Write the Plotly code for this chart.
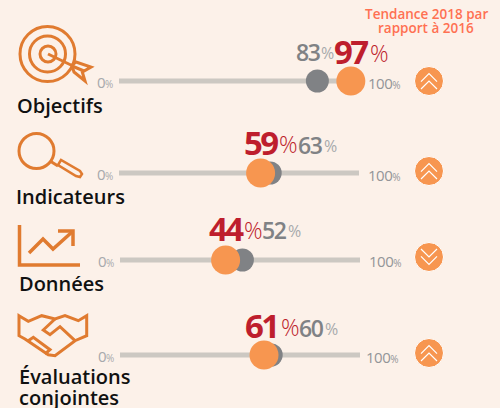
import plotly.graph_objects as go

categories = ["Objectifs", "Indicateurs", "Données", "Évaluations<br>conjointes"]
values_2018 = [97, 59, 44, 61]
labels_2016 = [83, 63, 52, 60]
# where the dots actually sit on the scale
dots_2018 = [97, 59, 44, 60]
dots_2016 = [83, 63, 51, 63]
trend = ["up", "up", "down", "up"]

BG = "#FCF1E9"; ICON = "#E07B30"; DOT = "#F79650"; GREY = "#808285"
TRACK = "#CCC8C2"; RED = "#BE1E2D"; LIGHT = "#A7A9AC"; HEAD = "#FF7052"
F = "Open Sans"
W, H = 500, 408

track_y = [81, 173, 260, 355]
track_x = [(119, 358), (119, 359), (120, 360), (120, 360)]
badge_y = [81, 171, 257, 353]
BADGE_X = 429
cat_pos = [(16, 105), (15, 196), (18, 283), (18, 376)]
zero_pos = [(96, 82), (96, 174), (97, 261), (97, 356)]
hundred_pos = [(367, 83), (367, 175), (368, 261), (365, 357)]
# number right edge, % left edge, baseline centre
red_pos = [(373, 369, 51), (283, 278, 142), (248, 243, 228), (284, 280, 325)]
grey_pos = [(323, 320, 52), (325, 323, 145), (289, 287, 230), (326, 324, 328)]

fig = go.Figure()
layout = dict(
    width=W, height=H, margin=dict(l=0, r=0, t=0, b=0),
    paper_bgcolor=BG, plot_bgcolor="rgba(0,0,0,0)", showlegend=False,
    xaxis=dict(range=[0, W], domain=[0, 1], visible=False, fixedrange=True),
    yaxis=dict(range=[H, 0], domain=[0, 1], visible=False, fixedrange=True),
)

for i in range(4):
    ax = f"x{i + 2}"
    x0, x1 = track_x[i]
    layout[f"xaxis{i + 2}"] = dict(range=[0, 100], domain=[x0 / W, x1 / W], anchor="y",
                                   visible=False, fixedrange=True)
    ys = [track_y[i], track_y[i]]
    fig.add_trace(go.Scatter(x=[0, 100], y=ys, xaxis=ax, yaxis="y", mode="lines",
                             line=dict(color=TRACK, width=5), hoverinfo="skip", cliponaxis=False))
    fig.add_trace(go.Scatter(x=[dots_2016[i]], y=ys[:1], xaxis=ax, yaxis="y", mode="markers",
                             marker=dict(color=GREY, size=23), cliponaxis=False))
    fig.add_trace(go.Scatter(x=[dots_2018[i]], y=ys[:1], xaxis=ax, yaxis="y", mode="markers",
                             marker=dict(color=DOT, size=29), cliponaxis=False))

fig.add_trace(go.Scatter(x=[BADGE_X] * 4, y=badge_y, mode="markers",
                         marker=dict(color=DOT, size=29, line=dict(color="white", width=1)),
                         cliponaxis=False))

ann = []
def text(x, y, s, size, color, anchor="left", weight=400, align="left"):
    ann.append(dict(x=x, y=y, xref="x", yref="y", text=s, showarrow=False, xanchor=anchor,
                    yanchor="middle", align=align, borderpad=0,
                    font=dict(family=F, size=size, color=color, weight=weight)))

for i in range(4):
    x, y = cat_pos[i]
    for j, part in enumerate(categories[i].split("<br>")):
        text(x, y + 21 * j, part, 20, "#111111", weight=600)
    text(*zero_pos[i], "0<span style='font-size:10px'>%</span>", 15, LIGHT)
    text(*hundred_pos[i], "100<span style='font-size:10px'>%</span>", 15, "#939598")
    a, b, y = red_pos[i]
    text(a, y, str(values_2018[i]), 33, RED, "right", 700)
    text(b, y + 2, "%", 23, RED, weight=300)
    a, b, y = grey_pos[i]
    text(a, y, str(labels_2016[i]), 23, GREY, "right", 600)
    text(b, y + 1, "%", 16, LIGHT, weight=400)
text(426, 13.5, "Tendance 2018 par", 13.5, HEAD, "center", 600, "center")
text(426, 27.5, "rapport à 2016", 13.5, HEAD, "center", 600, "center")

def line(points, zoom=None, closed=False, w=3, color=ICON):
    if zoom is not None:
        points = [(px / 3, py / 3 + zoom) for px, py in points]
    d = "M" + " L".join(f"{px:.1f},{py:.1f}" for px, py in points) + (" Z" if closed else "")
    return dict(type="path", path=d, xref="x", yref="y", line=dict(color=color, width=w))

def circle(cx, cy, r, w=3):
    return dict(type="circle", x0=cx - r, x1=cx + r, y0=cy - r, y1=cy + r, xref="x", yref="y",
                line=dict(color=ICON, width=w))

shapes = [
    # target
    circle(47.5, 54, 27.5), circle(47.5, 54, 18), circle(48, 54, 8),
    line([(48, 54), (73, 66)], w=3),
    line([(72, 65), (76, 62), (91, 67), (84, 71), (72, 66)], w=3),
    line([(72, 66), (74, 72), (85, 81), (82, 71)], w=3),
    # magnifier
    circle(36.5, 151, 17.5),
    line([(50, 161), (58, 166)], w=3),
    line([(58, 165), (61, 160), (80, 171), (82, 174), (80, 177), (76, 176)], closed=True, w=2.5),
    # chart
    line([(19.5, 225), (19.5, 265), (80, 265)], w=3.5),
    line([(29, 253), (43, 239), (53, 249), (72, 232)], w=3.5),
    line([(58, 231), (73, 231), (73, 246)], w=3.5),
    # handshake
    line([(57, 335), (85, 352), (125, 335), (165, 345), (195, 335), (235, 350), (260, 335),
          (260, 395), (225, 410), (165, 455), (145, 452), (75, 405), (57, 395)], 204, True, 3),
    line([(165, 345), (130, 378), (150, 392), (180, 368), (225, 410)], 204, w=3),
    line([(85, 410), (100, 400), (150, 437), (135, 450)], 204, w=3),
]

for y, t in zip(badge_y, trend):
    offs, arm = ((-7.3, 0), 8) if t == "up" else ((0, 7.3), -8)
    for apex in offs:
        yy = y + apex
        shapes.append(line([(BADGE_X - 8, yy + arm), (BADGE_X, yy), (BADGE_X + 8, yy + arm)],
                           w=1.2, color="white"))

layout["annotations"] = ann
layout["shapes"] = shapes
fig.update_layout(**layout)
post = """
document.body.style.margin = '0';
document.documentElement.style.background = '#FCF1E9';
var st = document.createElement('style');
st.textContent = 'text.annotation-text[style*="font-size: 33px"]{letter-spacing:-2.5px}'
 + 'text.annotation-text[style*="font-size: 23px"]{letter-spacing:-1.5px}'
 + 'text.annotation-text[style*="font-size: 15px"]{letter-spacing:-0.5px}';
document.head.appendChild(st);
"""
fig.write_html("out.html", config={"displayModeBar": False}, post_script=post)
